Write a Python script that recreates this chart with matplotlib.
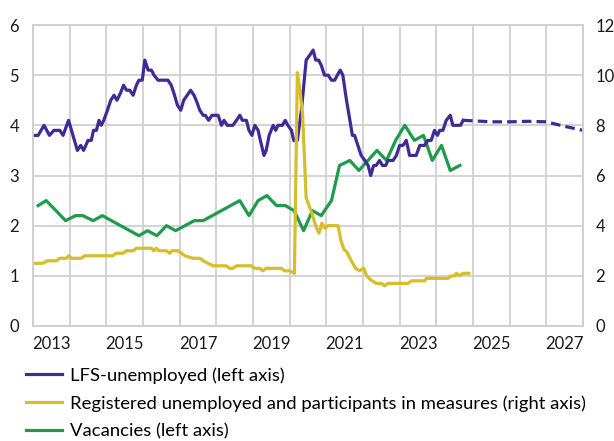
import matplotlib
matplotlib.use("Agg")
import matplotlib.pyplot as plt
from matplotlib.ticker import FixedLocator, NullFormatter, FixedFormatter

plt.rcParams["font.family"] = ["Lato", "DejaVu Sans"]

# LFS-unemployed, left axis (decimal years)
lfs_years = [2013.05, 2013.14, 2013.30, 2013.45, 2013.57, 2013.73, 2013.82, 2013.97, 2014.09, 2014.21,
             2014.30, 2014.38, 2014.50, 2014.59, 2014.65, 2014.73, 2014.80, 2014.86, 2014.93, 2015.03,
             2015.12, 2015.21, 2015.29, 2015.39, 2015.47, 2015.55, 2015.64, 2015.73, 2015.82, 2015.89,
             2015.98, 2016.05, 2016.14, 2016.23, 2016.30, 2016.41, 2016.68, 2016.77, 2016.86, 2016.94,
             2017.03, 2017.11, 2017.30, 2017.39, 2017.45, 2017.55, 2017.64, 2017.70, 2017.79, 2017.88,
             2018.05, 2018.14, 2018.21, 2018.30, 2018.45, 2018.55, 2018.64, 2018.71, 2018.82, 2018.89,
             2018.97, 2019.05, 2019.14, 2019.20, 2019.30, 2019.36, 2019.44, 2019.55, 2019.62, 2019.68,
             2019.80, 2019.88, 2019.95, 2020.05, 2020.11, 2020.21, 2020.32, 2020.45, 2020.55, 2020.64,
             2020.71, 2020.79, 2020.86, 2020.95, 2021.05, 2021.14, 2021.23, 2021.30, 2021.38, 2021.45,
             2021.55, 2021.62, 2021.71, 2021.77, 2021.86, 2021.95, 2022.05, 2022.14, 2022.21, 2022.29,
             2022.36, 2022.45, 2022.53, 2022.62, 2022.68, 2022.82, 2022.91, 2023.00, 2023.09, 2023.18,
             2023.27, 2023.45, 2023.55, 2023.68, 2023.77, 2023.86, 2023.95, 2024.03, 2024.09, 2024.18,
             2024.27, 2024.38, 2024.45, 2024.66, 2024.73]
lfs_vals = [3.8, 3.8, 4.0, 3.8, 3.9, 3.9, 3.8, 4.1, 3.8, 3.5,
            3.6, 3.5, 3.7, 3.7, 3.9, 3.9, 4.1, 4.0, 4.1, 4.3,
            4.5, 4.6, 4.5, 4.65, 4.8, 4.7, 4.7, 4.6, 4.8, 4.9,
            4.9, 5.3, 5.1, 5.1, 5.0, 4.9, 4.9, 4.8, 4.6, 4.4,
            4.3, 4.5, 4.7, 4.6, 4.5, 4.3, 4.2, 4.2, 4.1, 4.2,
            4.2, 4.0, 4.1, 4.0, 4.0, 4.1, 4.2, 4.1, 4.1, 3.9,
            3.8, 4.0, 3.9, 3.7, 3.4, 3.5, 3.8, 4.0, 3.9, 4.0,
            4.0, 4.1, 4.0, 3.9, 3.7, 3.7, 4.3, 5.3, 5.4, 5.5,
            5.3, 5.3, 5.2, 5.0, 5.0, 4.9, 4.9, 5.0, 5.1, 5.0,
            4.5, 4.2, 3.8, 3.8, 3.6, 3.4, 3.3, 3.2, 3.0, 3.2,
            3.2, 3.3, 3.2, 3.2, 3.3, 3.3, 3.4, 3.6, 3.6, 3.7,
            3.4, 3.4, 3.6, 3.6, 3.7, 3.7, 3.9, 3.8, 3.9, 3.9,
            4.1, 4.2, 4.0, 4.0, 4.1]

# LFS forecast (dashed)
fc_years = [2024.73, 2025.0, 2025.5, 2026.0, 2026.5, 2027.0, 2027.5, 2028.0]
fc_vals = [4.1, 4.09, 4.07, 4.07, 4.08, 4.07, 3.98, 3.9]

# Registered unemployed and participants in measures, right axis
reg_years = [2013.05, 2013.27, 2013.39, 2013.64, 2013.73, 2013.91, 2013.97, 2014.05, 2014.32, 2014.41,
             2015.18, 2015.27, 2015.45, 2015.55, 2015.73, 2015.82, 2016.23, 2016.29, 2016.36, 2016.44,
             2016.64, 2016.73, 2016.79, 2016.95, 2017.05, 2017.14, 2017.36, 2017.55, 2017.64, 2017.77,
             2017.91, 2018.27, 2018.36, 2018.45, 2018.55, 2018.95, 2019.05, 2019.18, 2019.27, 2019.36,
             2019.77, 2019.86, 2020.00, 2020.13, 2020.21, 2020.27, 2020.35, 2020.45, 2020.58, 2020.72,
             2020.80, 2020.88, 2020.96, 2021.05, 2021.32, 2021.40, 2021.48, 2021.56, 2021.68, 2021.80,
             2021.90, 2022.02, 2022.10, 2022.20, 2022.36, 2022.50, 2022.59, 2022.68, 2023.23, 2023.32,
             2023.68, 2023.73, 2024.32, 2024.41, 2024.50, 2024.55, 2024.62, 2024.73, 2024.89]
reg_vals = [2.5, 2.5, 2.6, 2.6, 2.7, 2.7, 2.8, 2.7, 2.7, 2.8,
            2.8, 2.9, 2.9, 3.0, 3.0, 3.1, 3.1, 3.0, 3.1, 3.0,
            3.0, 2.9, 3.0, 3.0, 2.9, 2.8, 2.7, 2.7, 2.6, 2.5,
            2.4, 2.4, 2.3, 2.3, 2.4, 2.4, 2.3, 2.3, 2.2, 2.3,
            2.3, 2.2, 2.2, 2.1, 10.1, 9.5, 8.5, 5.1, 4.6, 3.95,
            3.7, 4.1, 3.9, 4.0, 4.0, 3.4, 3.05, 2.95, 2.6, 2.3,
            2.2, 2.3, 2.0, 1.85, 1.7, 1.7, 1.6, 1.7, 1.7, 1.8,
            1.8, 1.9, 1.9, 2.0, 2.0, 2.1, 2.0, 2.1, 2.1]

# Vacancies, left axis
vac_years = [2013.14, 2013.36, 2013.89, 2014.16, 2014.36, 2014.64, 2014.89, 2015.89, 2016.12, 2016.38,
             2016.64, 2016.89, 2017.40, 2017.64, 2018.64, 2018.89, 2019.14, 2019.38, 2019.64, 2019.88,
             2020.12, 2020.38, 2020.62, 2020.86, 2021.14, 2021.36, 2021.64, 2021.89, 2022.38, 2022.64,
             2022.89, 2023.14, 2023.40, 2023.65, 2023.89, 2024.14, 2024.38, 2024.64]
vac_vals = [2.4, 2.5, 2.1, 2.2, 2.2, 2.1, 2.2, 1.8, 1.9, 1.8,
            2.0, 1.9, 2.1, 2.1, 2.5, 2.2, 2.5, 2.6, 2.4, 2.4,
            2.3, 1.9, 2.3, 2.2, 2.5, 3.2, 3.3, 3.1, 3.5, 3.3,
            3.7, 4.0, 3.7, 3.8, 3.3, 3.6, 3.1, 3.2]

year_labels = ["2013", "2015", "2017", "2019", "2021", "2023", "2025", "2027"]

purple = "#3f2b96"
yellow = "#d6bd2a"
green = "#1f9b4b"
grid_col = "#d0d0d0"

fig = plt.figure(figsize=(6.14, 4.41), dpi=100)
ax = fig.add_axes([33 / 614, 1 - 326 / 441, 550 / 614, 301 / 441])
ax2 = ax.twinx()

l1, = ax.plot(lfs_years, lfs_vals, color=purple, lw=2.3, label="LFS-unemployed (left axis)", zorder=3)
ax.plot(fc_years, fc_vals, color=purple, lw=2.3, ls=(0, (3, 1.6)), zorder=3)
l3, = ax.plot(vac_years, vac_vals, color=green, lw=2.3, label="Vacancies (left axis)", zorder=2)
l2, = ax2.plot(reg_years, reg_vals, color=yellow, lw=2.3,
               label="Registered unemployed and participants in measures (right axis)")

ax.set_xlim(2013, 2028)
ax.set_ylim(0, 6)
ax2.set_ylim(0, 12)
ax.set_yticks(range(0, 7))
ax2.set_yticks(range(0, 13, 2))

# grid at every year boundary, labels mid-year on odd years
ax.xaxis.set_major_locator(FixedLocator(range(2013, 2029)))
ax.xaxis.set_major_formatter(NullFormatter())
ax.xaxis.set_minor_locator(FixedLocator([int(y) + 0.5 for y in year_labels]))
ax.xaxis.set_minor_formatter(FixedFormatter(year_labels))
ax.grid(True, which="major", color=grid_col, lw=1.3)
ax.set_axisbelow(True)

ax.tick_params(axis="x", which="both", length=0, labelsize=12, pad=7, colors="#1a1a1a")
ax.tick_params(axis="y", length=0, labelsize=12, pad=10, colors="#1a1a1a")
ax2.tick_params(axis="y", length=0, labelsize=12, pad=9, colors="#1a1a1a")

for a in (ax, ax2):
    for s in a.spines.values():
        s.set_color(grid_col)
        s.set_linewidth(1.3)

fig.legend(handles=[l1, l2, l3], loc="upper left", bbox_to_anchor=(26 / 614, 1 - 367 / 441),
           frameon=False, fontsize=13.3, handlelength=1.95, handletextpad=0.45,
           labelspacing=0.62, borderpad=0, borderaxespad=0)

fig.savefig("out.png", dpi=100)
